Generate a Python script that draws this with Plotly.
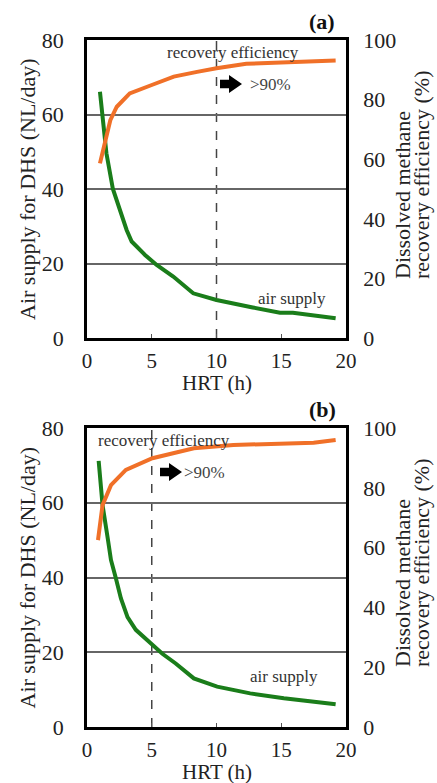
import plotly.graph_objects as go

# ---------------- data ----------------
hrt_eff_a = [1.0, 1.4, 1.8, 2.3, 3.3, 5.0, 6.7, 8.5, 10.0, 12.3, 15.1, 17.5, 19.2]
eff_a = [58.6, 66.4, 73.1, 77.6, 82.1, 84.9, 87.7, 89.3, 90.5, 92.0, 92.4, 92.7, 93.1]
hrt_air_a = [1.0, 1.5, 2.0, 2.55, 3.06, 3.45, 4.48, 5.38, 6.66, 8.2, 10.0, 12.8, 14.9, 15.9, 19.2]
air_a = [66.1, 49.6, 40.0, 34.4, 29.0, 25.9, 22.3, 19.6, 16.5, 12.0, 10.2, 8.2, 6.8, 6.8, 5.3]

hrt_eff_b = [0.85, 1.2, 1.85, 3.0, 5.05, 6.7, 8.25, 11.3, 14.5, 17.5, 19.2]
eff_b = [62.5, 74.2, 80.9, 86.0, 89.9, 91.5, 93.2, 94.3, 94.6, 95.1, 96.0]
hrt_air_b = [0.9, 1.2, 1.6, 1.85, 2.23, 2.62, 3.13, 3.77, 4.92, 5.82, 6.85, 8.25, 10.05, 12.6, 15.2, 19.2]
air_b = [71.2, 59.4, 50.5, 44.7, 39.8, 34.4, 29.4, 26.0, 22.4, 19.6, 17.0, 13.0, 10.8, 9.0, 7.7, 6.1]

threshold_hrt = [10, 5]
panel_labels = ["(a)", "(b)"]
x_ticks = [0, 5, 10, 15, 20]
left_ticks = [0, 20, 40, 60, 80]
right_ticks = [0, 20, 40, 60, 80, 100]

# ---------------- geometry helpers ----------------
W, H = 437, 783
def px(x):
    return x / W
def py(y):
    return 1 - y / H

FONT = '"Liberation Serif", "Times New Roman", Times, "DejaVu Serif", serif'
GREEN = "#1a7d1a"
ORANGE = "#f07028"

xdom = [px(87), px(346)]
ydom_a = [py(338), py(40)]
ydom_b = [py(727), py(428)]

fig = go.Figure()

panels = [
    ("x", "y", "y2", hrt_air_a, air_a, hrt_eff_a, eff_a),
    ("x2", "y3", "y4", hrt_air_b, air_b, hrt_eff_b, eff_b),
]
for xa, ya, yb, hx, hy, ex, ey in panels:
    fig.add_trace(go.Scatter(x=hx, y=hy, xaxis=xa, yaxis=ya, mode="lines",
                             line=dict(color=GREEN, width=4), showlegend=False))
    fig.add_trace(go.Scatter(x=ex, y=ey, xaxis=xa, yaxis=yb, mode="lines",
                             line=dict(color=ORANGE, width=4), showlegend=False))

tickfont = dict(family=FONT, size=22, color="#222")
xtickfont = dict(family=FONT, size=21, color="#222")
xcommon = dict(range=[0, 20], tickvals=x_ticks, showline=True, linewidth=2.5,
               linecolor="black", mirror=True, ticks="inside", ticklen=4,
               tickcolor="#555", showgrid=False, zeroline=False, automargin=False,
               tickfont=xtickfont, ticklabelstandoff=2, fixedrange=True)
yleft = dict(range=[0, 80], tickvals=left_ticks, showline=True, linewidth=2.5,
             linecolor="black", mirror=True, ticks="", showgrid=True,
             gridcolor="#666", gridwidth=1.5, zeroline=False, automargin=False,
             tickfont=tickfont, ticklabelstandoff=16, fixedrange=True)
yright = dict(range=[0, 100], tickvals=right_ticks, showline=True, linewidth=2.5,
              linecolor="black", ticks="", showgrid=False, zeroline=False,
              side="right", tickfont=tickfont, ticklabelstandoff=10,
              automargin=False, fixedrange=True)

fig.update_layout(
    width=W, height=H, margin=dict(l=0, r=0, t=0, b=0, autoexpand=False),
    font=dict(family=FONT, size=22, color="#222"),
    paper_bgcolor="white", plot_bgcolor="white",
    xaxis=dict(domain=xdom, anchor="y", **xcommon),
    yaxis=dict(domain=ydom_a, anchor="x", **yleft),
    yaxis2=dict(overlaying="y", anchor="x", **yright),
    xaxis2=dict(domain=xdom, anchor="y3", **xcommon),
    yaxis3=dict(domain=ydom_b, anchor="x2", **yleft),
    yaxis4=dict(overlaying="y3", anchor="x2", **yright),
)

annotations = []
shapes = []
panel_geo = [
    ("x", "y", 40, 338, 220, 84, (233, 52), (292, 298), (270, 85)),
    ("x2", "y3", 428, 727, 160, 472, (164, 440), (284, 676), (204, 472)),
]

def ann(text, x, y, size, color="#222", angle=0, xanchor="center", yanchor="middle"):
    return dict(text=text, x=px(x), y=py(y), xref="paper", yref="paper",
                xanchor=xanchor, yanchor=yanchor, showarrow=False, textangle=angle,
                font=dict(family=FONT, size=size, color=color))

for i, (xr, yr, top, bot, ax_px, ay_px, rec, air, gt) in enumerate(panel_geo):
    shapes.append(dict(type="line", xref=xr, yref=yr + " domain",
                       x0=threshold_hrt[i], x1=threshold_hrt[i], y0=0, y1=1,
                       line=dict(color="#444", width=1.5, dash="dash"), layer="below"))
    x0 = px(ax_px); xm = px(ax_px + 9); x1 = px(ax_px + 22)
    s = 4.3 / H; hh = 9 / H
    yc = py(ay_px)
    path = (f"M {x0},{yc+s} L {xm},{yc+s} L {xm},{yc+hh} L {x1},{yc} "
            f"L {xm},{yc-hh} L {xm},{yc-s} L {x0},{yc-s} Z")
    shapes.append(dict(type="path", xref="paper", yref="paper", path=path,
                       fillcolor="black", line=dict(color="black", width=0)))
    annotations += [
        ann(">90%", gt[0], gt[1], 17, "#444"),
        ann("recovery efficiency", rec[0], rec[1], 17, "#333"),
        ann("air supply", air[0], air[1], 17, "#333"),
        ann(f"<b>{panel_labels[i]}</b>", 322, top - 19, 22, "#111"),
        ann("HRT (h)", (87 + 346) / 2, bot + 45, 21),
        ann("Air supply for DHS (NL/day)", 27, (top + bot) / 2, 22, angle=-90),
        ann("Dissolved methane", 402, top + 241, 22, angle=-90, yanchor="bottom"),
        ann("recovery efficiency (%)", 421, top + 241, 22, angle=-90, yanchor="bottom"),
    ]

fig.update_layout(annotations=annotations, shapes=shapes)
fig.write_html("out.html")
